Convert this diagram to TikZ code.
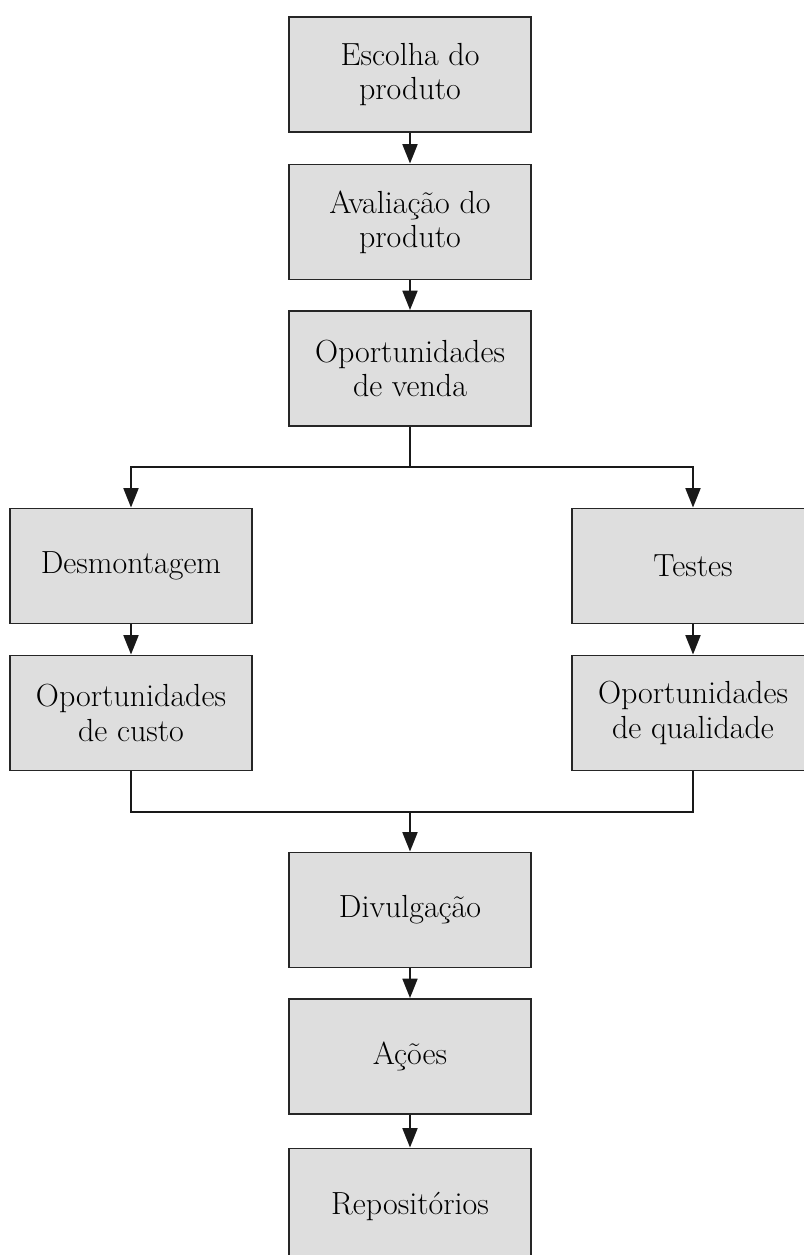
\documentclass[tikz,border=0pt]{standalone}
\usepackage{fontspec}
\usetikzlibrary{arrows.meta}
\definecolor{boxgray}{RGB}{222,222,222}
\begin{document}
\begin{tikzpicture}[x=0.02cm,y=-0.02cm,
  box/.style={draw=black!85, line width=1.1pt, fill=boxgray, minimum width=4.84cm, minimum height=2.3cm, inner sep=0pt, align=center, font=\fontsize{18.2}{19.5}\selectfont},
  conn/.style={line width=1.1pt, black!90},
  arr/.style={conn, -{Triangle[width=8.5pt,length=11pt]}}]
\useasboundingbox (0,0) rectangle (804,1255);
\node[box] (b1) at (410,74.5) {Escolha do\\produto};
\node[box] (b2) at (410,222) {Avaliação do\\produto};
\node[box] (b3) at (410,368.5) {Oportunidades\\de venda};
\node[box] (l1) at (131,566) {Desmontagem};
\node[box] (l2) at (131,713) {Oportunidades\\de custo};
\node[box] (r1) at (693,566) {Testes};
\node[box] (r2) at (693,713) {Oportunidades\\de qualidade};
\node[box] (d) at (410,910) {Divulgação};
\node[box] (a) at (410,1056.5) {Ações};
\node[box] (r) at (410,1206) {Repositórios};
\coordinate (split) at (410,467);
\coordinate (merge) at (410,812);
\draw[arr] (b1) -- (b2);
\draw[arr] (b2) -- (b3);
\draw[conn] (b3.south) -- (split);
\draw[arr] (split) -| (l1.north);
\draw[arr] (split) -| (r1.north);
\draw[arr] (l1) -- (l2);
\draw[arr] (r1) -- (r2);
\draw[conn] (l2.south) |- (merge);
\draw[conn] (r2.south) |- (merge);
\draw[arr] (merge) -- (d.north);
\draw[arr] (d) -- (a);
\draw[arr] (a) -- (r);
\end{tikzpicture}
\end{document}
